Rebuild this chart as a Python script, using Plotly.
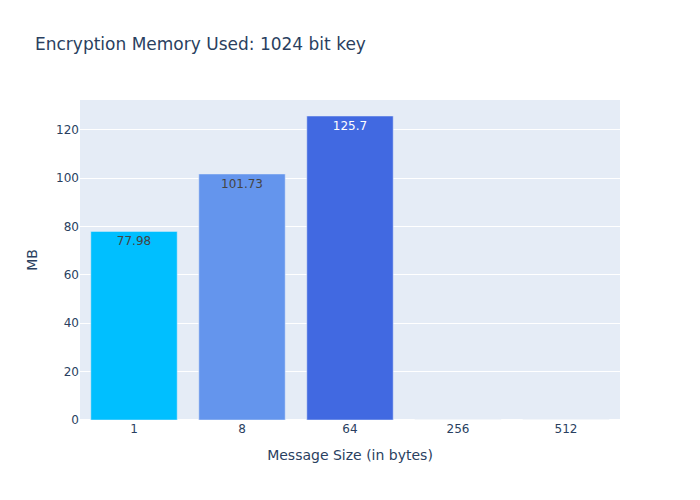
import plotly.graph_objects as go

categories = ["1", "8", "64", "256", "512"]
memory_mb = [77.98, 101.73, 125.7, 0.05, 0.05]
labels = ["77.98", "101.73", "125.7", "", ""]
colors = ["deepskyblue", "cornflowerblue", "royalblue", "blue", "mediumblue"]

fig = go.Figure(go.Bar(x=categories, y=memory_mb, text=labels, textposition="auto",
                       marker_color=colors))
fig.update_layout(
    title="Encryption Memory Used: 1024 bit key",
    xaxis_title="Message Size (in bytes)",
    yaxis_title="MB",
    xaxis_type="category",
    font_family="DejaVu Sans",
    width=700, height=500,
)
fig.write_html("out.html")
